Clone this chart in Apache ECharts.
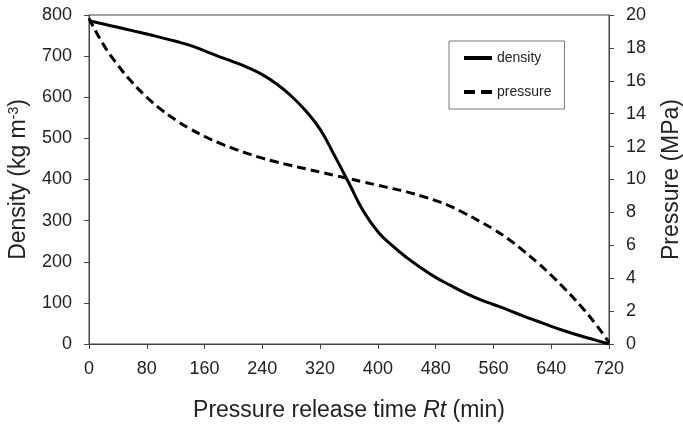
<!DOCTYPE html>
<html>
<head>
<meta charset="utf-8">
<script src="https://cdn.jsdelivr.net/npm/echarts@6/dist/echarts.min.js"></script>
<style>
  html, body { margin: 0; padding: 0; background: #fff; }
  #chart { width: 683px; height: 425px; }
</style>
</head>
<body>
<div id="chart"></div>
<script>
// values, every 20 min
var times = [0, 20, 40, 60, 80, 100, 120, 140, 160, 180, 200, 220, 240, 260, 280, 300, 320, 340, 360,
  380, 400, 420, 440, 460, 480, 500, 520, 540, 560, 580, 600, 620, 640, 660, 680, 700, 720]
var density = [786, 778, 770, 762, 754, 745, 736, 726, 713, 699, 686, 672, 655, 632, 603, 567, 522, 458, 391,
  323, 273, 239, 210, 185, 162, 143, 125, 109, 96, 83, 69, 56, 43, 31, 20, 10, 0]
var pressure = [19.8, 18.2, 16.95, 15.9, 15.0, 14.25, 13.62, 13.08, 12.62, 12.22, 11.88, 11.57, 11.3, 11.06, 10.85, 10.65, 10.45, 10.25, 10.05,
  9.85, 9.65, 9.45, 9.25, 9.0, 8.72, 8.38, 7.95, 7.48, 6.98, 6.4, 5.72, 4.98, 4.18, 3.3, 2.35, 1.3, 0.1]
var xTicks = [0, 720, 80]
var densityTicks = [0, 800, 100]
var pressureTicks = [0, 20, 2]

function pairs(xs, ys) {
  var out = []
  for (let i = 0; i < xs.length; i++) {
    out.push([xs[i], ys[i]])
  }
  return out
}

var axisColor = '#444'
var textColor = '#222'
var font = 'Liberation Sans, Arial, sans-serif'

var chart = echarts.init(document.getElementById('chart'))
var option = {
  animation: false,
  backgroundColor: '#fff',
  grid: {
    left: 89,
    right: 74,
    top: 15,
    bottom: 81,
    outerBoundsMode: 'none',
    containLabel: false,
    show: true,
    borderColor: axisColor,
    borderWidth: 1
  },
  legend: {
    orient: 'vertical',
    left: 449,
    top: 41,
    padding: [9, 13, 9, 15],
    itemGap: 18,
    itemWidth: 28,
    itemHeight: 4,
    borderColor: '#777',
    borderWidth: 1,
    textStyle: { fontSize: 14, color: textColor, fontFamily: font, lineHeight: 16 },
    data: [
      { name: 'density', icon: 'rect' },
      { name: 'pressure', icon: 'path://M0,0H11V4H0Z M17,0H28V4H17Z' }
    ]
  },
  xAxis: {
    type: 'value',
    min: xTicks[0],
    max: xTicks[1],
    interval: xTicks[2],
    name: '{n|Pressure release time }{i|Rt}{n| (min)}',
    nameLocation: 'middle',
    nameGap: 55,
    nameTextStyle: {
      rich: {
        n: { fontSize: 23, color: textColor, fontFamily: font },
        i: { fontSize: 23, color: textColor, fontFamily: font, fontStyle: 'italic' }
      }
    },
    axisLine: { show: true, lineStyle: { color: axisColor, width: 1 } },
    axisTick: { show: true, length: 5, lineStyle: { color: axisColor } },
    axisLabel: { fontSize: 18, color: textColor, fontFamily: font, margin: 16 },
    splitLine: { show: false }
  },
  yAxis: [{
    type: 'value',
    min: densityTicks[0],
    max: densityTicks[1],
    interval: densityTicks[2],
    name: '{n|Density (kg m}{s|-3}{n|)}',
    nameLocation: 'middle',
    nameRotate: 90,
    nameGap: 58,
    nameTextStyle: {
      rich: {
        n: { fontSize: 23, color: textColor, fontFamily: font },
        s: { fontSize: 14, color: textColor, fontFamily: font, verticalAlign: 'top', padding: [0, 0, 10, 0] }
      }
    },
    axisLine: { show: true, lineStyle: { color: axisColor, width: 1 } },
    axisTick: { show: true, length: 5, lineStyle: { color: axisColor } },
    axisLabel: { fontSize: 18, color: textColor, fontFamily: font, margin: 17 },
    splitLine: { show: false }
  }, {
    type: 'value',
    position: 'right',
    min: pressureTicks[0],
    max: pressureTicks[1],
    interval: pressureTicks[2],
    name: 'Pressure (MPa)',
    nameLocation: 'middle',
    nameRotate: 90,
    nameGap: 51,
    nameTextStyle: { fontSize: 23, color: textColor, fontFamily: font },
    axisLine: { show: true, lineStyle: { color: axisColor, width: 1 } },
    axisTick: { show: true, length: 5, lineStyle: { color: axisColor } },
    axisLabel: { fontSize: 18, color: textColor, fontFamily: font, margin: 17 },
    splitLine: { show: false }
  }],
  series: [{
    name: 'density',
    type: 'line',
    yAxisIndex: 0,
    smooth: 0.5,
    symbol: 'none',
    itemStyle: { color: '#000' },
    lineStyle: { color: '#000', width: 3 },
    data: pairs(times, density)
  }, {
    name: 'pressure',
    type: 'line',
    yAxisIndex: 1,
    smooth: 0.5,
    symbol: 'none',
    itemStyle: { color: '#000' },
    lineStyle: { color: '#000', width: 3, type: [9, 5] },
    data: pairs(times, pressure)
  }]
}
chart.setOption(option)
</script>
</body>
</html>
